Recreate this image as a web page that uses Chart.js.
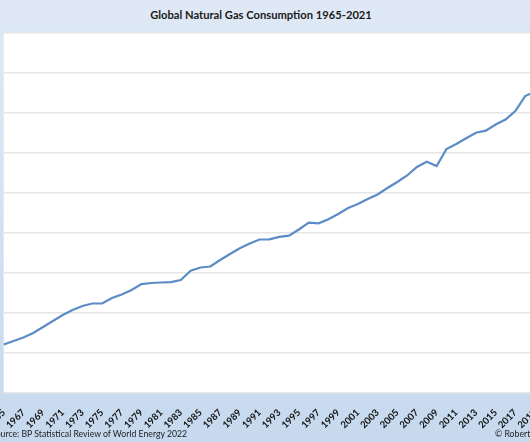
<!DOCTYPE html>
<html>
<head>
<meta charset="utf-8">
<script src="https://cdn.jsdelivr.net/npm/chart.js@4"></script>
<style>
  html, body { margin: 0; padding: 0; }
  body {
    width: 530px; height: 442px; overflow: hidden; position: relative;
    background: linear-gradient(to bottom, #dfe9f5 0%, #d3e2f2 50%, #c6d9ee 100%);
    font-family: Lato, "Open Sans", sans-serif;
  }
  #title {
    position: absolute; top: 8px; left: 0; width: 522px; text-align: center;
    font-weight: bold; font-size: 11.2px; color: #1a1a1a;
  }
  #source {
    position: absolute; left: -9px; top: 428px; font-size: 8.7px; color: #222;
  }
  #credit {
    position: absolute; left: 495px; top: 428px; font-size: 8.7px; color: #222; white-space: nowrap;
  }
  #wrap { position: absolute; left: 0; top: 0; width: 560px; height: 442px; }
</style>
</head>
<body>
<div id="title">Global Natural Gas Consumption 1965-2021</div>
<div id="wrap"><canvas id="myChart" width="560" height="442"></canvas></div>
<div id="source">Source: BP Statistical Review of World Energy 2022</div>
<div id="credit">© Robert Rapier</div>
<script>
// years 1965-2021
var years = [];
for (var y = 1965; y <= 2021; y++) years.push(String(y));

// gas consumption (bcm)
var consumption = [
    606, 650, 694, 750, 825, 900, 975, 1037, 1087, 1119,
    1119, 1187, 1231, 1287, 1362, 1375, 1381, 1387, 1412, 1529,
    1569, 1581, 1662, 1737, 1809, 1869, 1919, 1921, 1952, 1967,
    2044, 2129, 2121, 2171, 2237, 2312, 2362, 2425, 2481, 2562,
    2637, 2719, 2825, 2891, 2837, 3050, 3112, 3184, 3254, 3279,
    3356, 3419, 3525, 3712, 3770, 3697, 3873
];

var yTicks = { min: 0, max: 4500, step: 500 };

var plotBg = {
    id: "plotBg",
    beforeDraw: function (chart) {
        var a = chart.chartArea, c = chart.ctx;
        c.save();
        c.fillStyle = "#ffffff";
        c.fillRect(a.left, a.top, a.right - a.left, a.bottom - a.top);
        c.restore();
    }
};

var ctx = document.getElementById("myChart").getContext("2d");

myChart = new Chart(ctx, {
    type: "line",
    data: {
        labels: years,
        datasets: [
            {
                label: "Natural gas consumption",
                data: consumption,
                borderColor: "#5b8cc6",
                borderWidth: 2.2,
                pointRadius: 0,
                tension: 0,
                fill: false
            }
        ]
    },
    options: {
        responsive: false,
        animation: false,
        layout: {
            padding: { left: 3.7, right: 5.3, top: 33, bottom: 0 }
        },
        plugins: {
            legend: { display: false },
            tooltip: { enabled: false }
        },
        scales: {
            x: {
                offset: false,
                grid: { display: false },
                border: { display: false },
                ticks: {
                    autoSkip: false,
                    maxRotation: 45,
                    minRotation: 45,
                    padding: 6,
                    color: "#111",
                    font: { family: "Lato", size: 9.5, weight: "bold" },
                    callback: function (v, i) {
                        var yr = Number(years[i]);
                        return yr % 2 === 1 ? years[i] : "";
                    }
                },
                afterFit: function (scale) {
                    scale.paddingLeft = 0;
                    scale.paddingRight = 0;
                    scale.height = 49;
                }
            },
            y: {
                min: yTicks.min,
                max: yTicks.max,
                ticks: { display: false, stepSize: yTicks.step },
                grid: { color: "#e6e6e6", lineWidth: 1.5, drawTicks: false },
                border: { display: false },
                afterFit: function (scale) {
                    scale.width = 0;
                }
            }
        }
    },
    plugins: [plotBg]
});
</script>
</body>
</html>
